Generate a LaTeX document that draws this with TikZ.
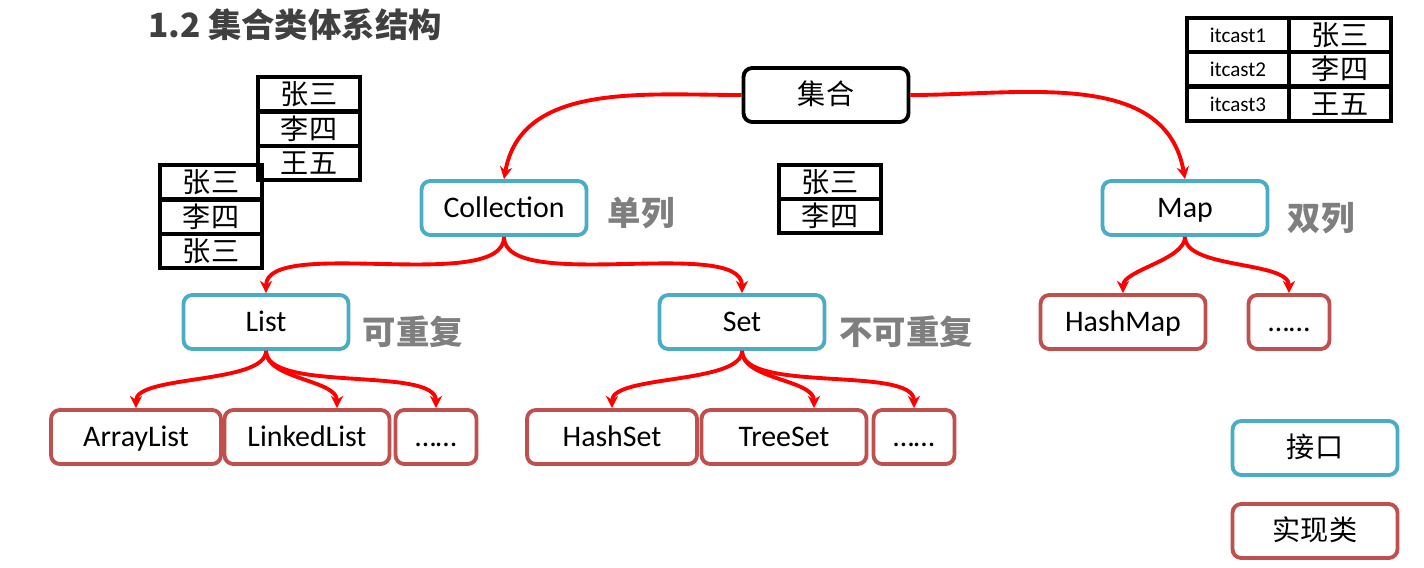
\documentclass[tikz,border=0pt]{standalone}
\usepackage{fontspec}
\setmainfont{Carlito}
\newfontfamily\cjk{Noto Sans CJK SC}
\usetikzlibrary{arrows.meta}
\definecolor{teal1}{HTML}{4BACC6}
\definecolor{red1}{HTML}{C0504D}
\definecolor{lab}{HTML}{7F7F7F}
\begin{document}
\begin{tikzpicture}[x=0.02cm,y=-0.02cm,
  box/.style={draw,rounded corners=5pt,line width=2.2pt,minimum width=3.3cm,minimum height=1.08cm,text height=2.4ex,text depth=0.2ex,font=\fontsize{17}{19}\selectfont},
  ibox/.style={box,draw=teal1},
  cbox/.style={box,draw=red1},
  sbox/.style={cbox,minimum width=1.62cm},
  lbl/.style={font=\cjk\bfseries\fontsize{19}{21}\selectfont,text=lab},
  arr/.style={draw=red,line width=2.2pt,-{Stealth[length=7pt,width=7pt]}},
  cell/.style={draw,line width=2pt,minimum width=2.04cm,minimum height=0.69cm,inner sep=0pt,font=\cjk\fontsize{16}{16}\selectfont}]
\useasboundingbox (0,0) rectangle (1424,568);
\node[font=\cjk\bfseries\fontsize{19}{21}\selectfont,text=black!75] (title) at (295,25) {1.2 集合类体系结构};
\node[box,draw=black,font=\cjk\fontsize{16}{18}\selectfont] (jh) at (826,95) {集合};
\node[ibox] (coll) at (504,208) {Collection};
\node[ibox] (map) at (1185,208) {Map};
\node[ibox] (list) at (266,322) {List};
\node[ibox] (set) at (742,322) {Set};
\node[cbox] (hm) at (1123,322) {HashMap};
\node[sbox] (md) at (1289,322) {……};
\node[cbox,minimum width=3.4cm] (al) at (136,437) {ArrayList};
\node[cbox,minimum width=3.3cm] (ll) at (307,437) {LinkedList};
\node[sbox] (ld) at (436,437) {……};
\node[cbox,minimum width=3.4cm] (hs) at (612,437) {HashSet};
\node[cbox,minimum width=3.3cm] (ts) at (784,437) {TreeSet};
\node[sbox] (sd) at (914,437) {……};
\node[ibox,font=\cjk\fontsize{16}{18}\selectfont] (jk) at (1315,448) {接口};
\node[cbox,font=\cjk\fontsize{16}{18}\selectfont] (sx) at (1315,531) {实现类};
\node[lbl] (l1) at (641,213) {单列};
\node[lbl] (l2) at (1321,218) {双列};
\node[lbl] (l3) at (413,332) {可重复};
\node[lbl] (l4) at (906,332) {不可重复};
% tables
\foreach \n/\y/\t in {a1/94/张三,a2/129/李四,a3/163/王五}{\node[cell] (\n) at (309,\y) {\t};}
\foreach \n/\y/\t in {b1/182/张三,b2/217/李四,b3/251/张三}{\node[cell] (\n) at (211,\y) {\t};}
\foreach \n/\y/\t in {c1/182/张三,c2/216/李四}{\node[cell] (\n) at (830,\y) {\t};}
\foreach \n/\y/\k/\t in {d1/35/1/张三,d2/69/2/李四,d3/104/3/王五}{
  \node[cell,font=\fontsize{12}{12}\selectfont] (k\n) at (1238,\y) {itcast\k};
  \node[cell] (\n) at (1340,\y) {\t};}
% arrows
\draw[arr] (jh.west) to[out=180,in=80] (coll.north);
\draw[arr] (jh.east) to[out=0,in=100] (map.north);
\draw[arr] (coll.south) to[out=-90,in=90,looseness=0.6] (list.north);
\draw[arr] (coll.south) to[out=-90,in=90,looseness=0.6] (set.north);
\draw[arr] (map.south) to[out=-90,in=90,looseness=0.7] (hm.north);
\draw[arr] (map.south) to[out=-90,in=90,looseness=0.7] (md.north);
\draw[arr] (list.south) to[out=-90,in=90,looseness=0.6] (al.north);
\draw[arr] (list.south) to[out=-90,in=90,looseness=0.8] ([xshift=0.6cm]ll.north);
\draw[arr] (list.south) to[out=-90,in=90,looseness=0.6] (ld.north);
\draw[arr] (set.south) to[out=-90,in=90,looseness=0.6] (hs.north);
\draw[arr] (set.south) to[out=-90,in=90,looseness=0.8] ([xshift=0.6cm]ts.north);
\draw[arr] (set.south) to[out=-90,in=90,looseness=0.6] (sd.north);
\end{tikzpicture}
\end{document}
